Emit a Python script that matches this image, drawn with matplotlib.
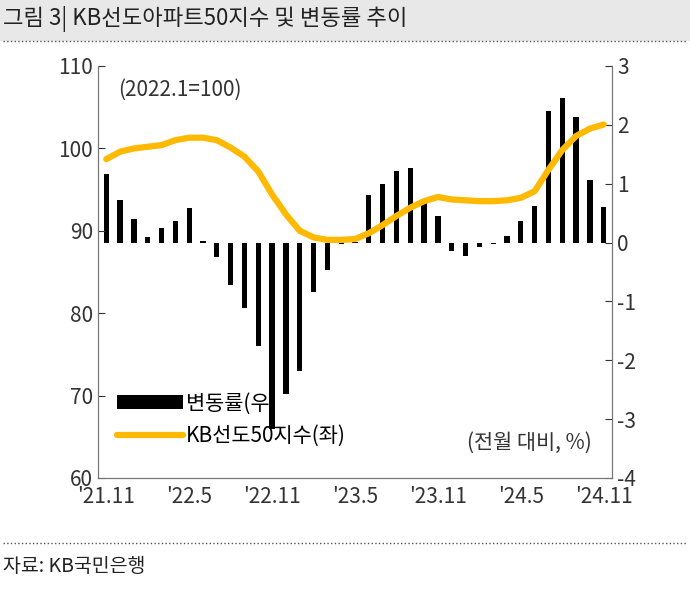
import matplotlib
matplotlib.use("Agg")
import matplotlib.pyplot as plt
from matplotlib.patches import Rectangle
from matplotlib.lines import Line2D
import numpy as np

plt.rcParams['font.family'] = ['Noto Sans CJK KR', 'Noto Sans CJK JP', 'Noto Sans CJK SC', 'DejaVu Sans']

tick_labels = ["'21.11", "'22.5", "'22.11", "'23.5", "'23.11", "'24.5", "'24.11"]
change = [1.16, 0.73, 0.40, 0.09, 0.25, 0.37, 0.58, 0.02, -0.25, -0.72, -1.12, -1.75, -3.16,
          -2.58, -2.19, -0.84, -0.46, -0.02, 0.01, 0.81, 0.99, 1.21, 1.26, 0.67, 0.45, -0.15,
          -0.23, -0.07, -0.02, 0.11, 0.37, 0.62, 2.24, 2.45, 2.14, 1.06, 0.61]
index = [98.7, 99.6, 100.0, 100.2, 100.4, 101.0, 101.3, 101.3, 101.0, 100.1, 99.0, 97.2, 94.4,
         92.0, 90.0, 89.2, 88.9, 88.9, 89.0, 89.7, 90.7, 91.8, 92.8, 93.6, 94.1, 93.8, 93.7,
         93.6, 93.6, 93.7, 94.0, 94.8, 97.4, 99.8, 101.5, 102.4, 102.9]

fig = plt.figure(figsize=(6.9, 6.03), dpi=100)
fig.patches.append(Rectangle((0, 1 - 40/603), 1, 40/603, transform=fig.transFigure,
                             color='#e8e8e8', zorder=0))
fig.text(0.005, 1 - 19/603, "그림 3| KB선도아파트50지수 및 변동률 추이", fontsize=16,
         va='center', ha='left', color='#222222')
fig.add_artist(Line2D([0.005, 0.995], [1 - 41/603]*2, color='#555555', lw=1, ls=':'))
fig.add_artist(Line2D([0.005, 0.995], [1 - 543/603]*2, color='#555555', lw=1, ls=':'))
fig.text(0.005, 1 - 566/603, "자료: KB국민은행", fontsize=14, va='center', ha='left', color='#222222')

ax = fig.add_axes([98/690, 1 - 478/603, (612 - 98)/690, (478 - 66)/603])
ax2 = ax.twinx()
x = np.arange(len(change))
ax2.bar(x, change, width=0.38, color='black', label='변동률(우)', zorder=2)
ax.plot(x, index, color='#FFB900', lw=4.5, solid_capstyle='round', label='KB선도50지수(좌)', zorder=3)
ax.set_zorder(ax2.get_zorder() + 1)
ax.patch.set_visible(False)

ax.set_ylim(60, 110)
ax.set_yticks(range(60, 111, 10))
ax2.set_ylim(-4, 3)
ax2.set_yticks(range(-4, 4))
ax2.set_yticklabels([str(v) for v in range(-4, 4)])
ax.set_xlim(-0.6, len(change) - 0.4)
ax.set_xticks(range(0, len(change), 6))
ax.set_xticklabels(tick_labels)
for a in (ax, ax2):
    for s in a.spines.values():
        s.set_color('#777777')
    a.spines['top'].set_visible(False)
ax.tick_params(axis='y', direction='in', labelsize=15, length=5, colors='#333333')
ax2.tick_params(axis='y', direction='in', labelsize=15, length=5, colors='#333333')
ax.tick_params(axis='x', length=0, labelsize=15, colors='#333333', pad=6)

ax.text(0.04, 0.97, "(2022.1=100)", transform=ax.transAxes, fontsize=15, va='top', color='#333333')
ax.text(0.96, 0.07, "(전월 대비, %)", transform=ax.transAxes, fontsize=15, ha='right', color='#333333')
h2, l2 = ax2.get_legend_handles_labels()
h1, l1 = ax.get_legend_handles_labels()
leg = ax.legend(h2 + h1, l2 + l1, loc='lower left', bbox_to_anchor=(0.0, 0.03), frameon=False,
                fontsize=15, handlelength=3.2, handletextpad=0.1, labelspacing=0.5)
fig.savefig('out.png', dpi=100)
